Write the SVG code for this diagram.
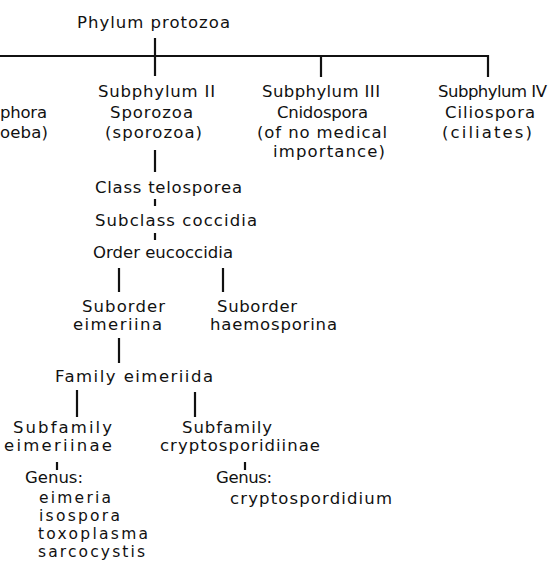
<svg xmlns="http://www.w3.org/2000/svg" width="548" height="562" viewBox="0 0 548 562">
<style>
text{font-family:"DejaVu Sans","Liberation Sans",sans-serif;font-size:16.5px;fill:#111;}
.g text{font-size:15.5px;}
.c line{stroke:#111;stroke-width:2.2;stroke-linecap:butt;}
</style>
<rect width="548" height="562" fill="#fff"/>
<g id="connectors" class="c">
<line x1="155" y1="38" x2="155" y2="76"/>
<line x1="0" y1="56" x2="489" y2="56"/>
<line x1="321" y1="56" x2="321" y2="77"/>
<line x1="488" y1="55" x2="488" y2="77"/>
<line x1="155" y1="150" x2="155" y2="172"/>
<line x1="155" y1="199" x2="155" y2="206"/>
<line x1="155" y1="233" x2="155" y2="240"/>
<line x1="119" y1="268" x2="119" y2="292"/>
<line x1="223" y1="268" x2="223" y2="292"/>
<line x1="119" y1="338" x2="119" y2="363"/>
<line x1="77" y1="390" x2="77" y2="417"/>
<line x1="195" y1="392" x2="195" y2="417"/>
<line x1="57" y1="462" x2="57" y2="470"/>
<line x1="245" y1="462" x2="245" y2="470"/>
</g>
<g id="phylum"><text x="77" y="28" textLength="153">Phylum protozoa</text></g>
<g id="subphylum1">
<text x="0" y="118" textLength="47">phora</text>
<text x="0" y="138" textLength="48">oeba)</text>
</g>
<g id="subphylum2">
<text x="98" y="97" textLength="117">Subphylum II</text>
<text x="110" y="118" textLength="83">Sporozoa</text>
<text x="105" y="138" textLength="97">(sporozoa)</text>
</g>
<g id="subphylum3">
<text x="262" y="97" textLength="118">Subphylum III</text>
<text x="277" y="118" textLength="91">Cnidospora</text>
<text x="257" y="138" textLength="130">(of no medical</text>
<text x="273" y="157" textLength="112">importance)</text>
</g>
<g id="subphylum4">
<text x="438" y="97" textLength="109">Subphylum IV</text>
<text x="445" y="118" textLength="90">Ciliospora</text>
<text x="442" y="138" textLength="90">(ciliates)</text>
</g>
<g id="class"><text x="95" y="193" textLength="147">Class telosporea</text></g>
<g id="subclass"><text x="95" y="226" textLength="162">Subclass coccidia</text></g>
<g id="order"><text x="93" y="258" textLength="140">Order eucoccidia</text></g>
<g id="suborder-eimeriina">
<text x="82" y="312" textLength="83">Suborder</text>
<text x="73" y="330" textLength="89">eimeriina</text>
</g>
<g id="suborder-haemosporina">
<text x="217" y="312" textLength="80">Suborder</text>
<text x="210" y="330" textLength="127">haemosporina</text>
</g>
<g id="family"><text x="55" y="382" textLength="158">Family eimeriida</text></g>
<g id="subfamily-eimeriinae">
<text x="13" y="433" textLength="99">Subfamily</text>
<text x="4" y="451" textLength="108">eimeriinae</text>
</g>
<g id="subfamily-cryptosporidiinae">
<text x="182" y="433" textLength="90">Subfamily</text>
<text x="160" y="451" textLength="160">cryptosporidiinae</text>
</g>
<g id="genus-eimeriinae">
<text x="25" y="483" textLength="58">Genus:</text>
<g class="g">
<text x="39" y="503" textLength="72">eimeria</text>
<text x="39" y="521" textLength="81">isospora</text>
<text x="38" y="539" textLength="110">toxoplasma</text>
<text x="38" y="557" textLength="107">sarcocystis</text>
</g>
</g>
<g id="genus-cryptosporidiinae">
<text x="216" y="483" textLength="56">Genus:</text>
<text x="230" y="504" textLength="162">cryptospordidium</text>
</g>
</svg>
